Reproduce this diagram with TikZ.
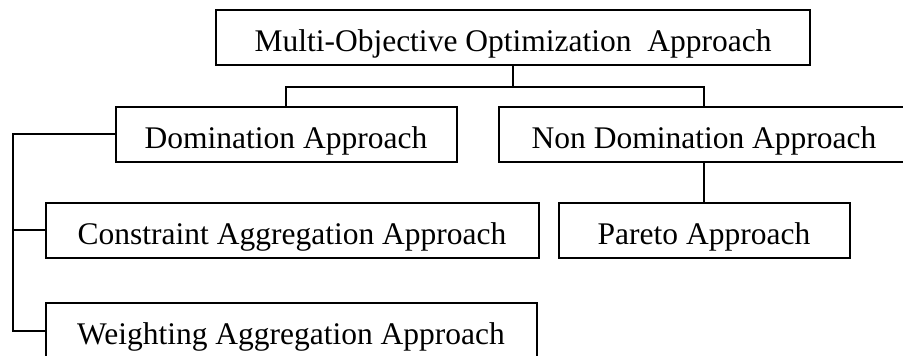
\documentclass[tikz,border=0pt]{standalone}
\usepackage{fontspec}
\setmainfont{Liberation Serif}
\usetikzlibrary{calc}

\begin{document}
\begin{tikzpicture}[x=1pt,y=-1pt,line width=2pt,
  box/.style={draw,inner sep=0pt,minimum height=55pt,text height=28pt,text depth=0pt,
    font=\fontsize{31.5}{36}\selectfont}]
\useasboundingbox (0,0) rectangle (903,356);
\coordinate (split) at (513,87);
\coordinate (bus) at (13,134);
\node[box,minimum width=594pt] (moo) at (513,37.5) {Multi-Objective Optimization\ \ Approach};
\node[box,minimum width=341pt] (dom) at (286,134) {Domination Approach};
\node[box,minimum width=410pt] (nondom) at (704,134) {Non Domination Approach};
\node[box,minimum width=493pt] (cons) at (292,230) {Constraint Aggregation Approach};
\node[box,minimum width=291pt] (pareto) at (704,230) {Pareto Approach};
\node[box,minimum width=491pt] (weight) at (291,330.5) {Weighting Aggregation Approach};
\draw (moo)--(split);
\draw (split)-|(dom);
\draw (split)-|(nondom);
\draw (nondom)--(pareto);
\draw (dom)--(bus)|-(weight);
\draw (cons)--(cons-|bus);
\end{tikzpicture}
\end{document}
